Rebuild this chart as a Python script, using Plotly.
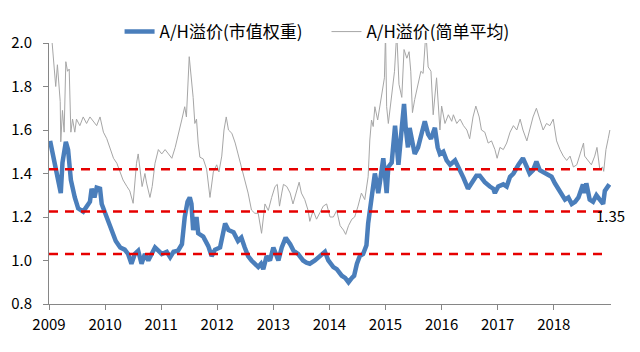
import plotly.graph_objects as go

# A/H premium, market-cap weighted (decimal year, value)
mw_time = [2009.02, 2009.08, 2009.14, 2009.21, 2009.24, 2009.30, 2009.34, 2009.39, 2009.46, 2009.52,
           2009.61, 2009.67, 2009.73, 2009.76, 2009.81, 2009.85, 2009.91, 2009.94, 2010.00, 2010.06,
           2010.12, 2010.19, 2010.27, 2010.35, 2010.41, 2010.47, 2010.53, 2010.59, 2010.65, 2010.71,
           2010.77, 2010.83, 2010.89, 2010.95, 2011.01, 2011.10, 2011.16, 2011.22, 2011.30, 2011.37,
           2011.39, 2011.42, 2011.47, 2011.51, 2011.54, 2011.57, 2011.63, 2011.66, 2011.75, 2011.84,
           2011.90, 2011.96, 2012.05, 2012.14, 2012.20, 2012.29, 2012.37, 2012.43, 2012.49, 2012.55,
           2012.61, 2012.67, 2012.73, 2012.78, 2012.82, 2012.88, 2012.94, 2013.00, 2013.09, 2013.15,
           2013.22, 2013.30, 2013.36, 2013.44, 2013.53, 2013.59, 2013.65, 2013.74, 2013.86, 2013.92,
           2013.98, 2014.07, 2014.13, 2014.22, 2014.28, 2014.34, 2014.40, 2014.44, 2014.49, 2014.54,
           2014.60, 2014.66, 2014.69, 2014.72, 2014.78, 2014.81, 2014.84, 2014.87, 2014.90, 2014.96,
           2015.02, 2015.05, 2015.11, 2015.17, 2015.20, 2015.23, 2015.29, 2015.33, 2015.36, 2015.40,
           2015.43, 2015.49, 2015.52, 2015.58, 2015.64, 2015.70, 2015.76, 2015.81, 2015.88, 2015.93,
           2015.97, 2016.03, 2016.09, 2016.15, 2016.24, 2016.30, 2016.39, 2016.47, 2016.54, 2016.62,
           2016.68, 2016.77, 2016.86, 2016.92, 2016.95, 2017.01, 2017.10, 2017.16, 2017.22, 2017.28,
           2017.37, 2017.45, 2017.52, 2017.57, 2017.63, 2017.69, 2017.75, 2017.84, 2017.90, 2017.96,
           2018.02, 2018.08, 2018.14, 2018.20, 2018.26, 2018.32, 2018.38, 2018.44, 2018.52, 2018.55,
           2018.58, 2018.64, 2018.70, 2018.76, 2018.82, 2018.88, 2018.91, 2018.96, 2018.99]
mw_value = [1.55, 1.48, 1.39, 1.31, 1.45, 1.545, 1.51, 1.37, 1.29, 1.24,
            1.225, 1.25, 1.27, 1.33, 1.29, 1.335, 1.33, 1.26, 1.22, 1.18,
            1.135, 1.09, 1.06, 1.05, 1.03, 0.985, 1.03, 1.045, 0.985, 1.03,
            1.0, 1.03, 1.06, 1.045, 1.03, 1.04, 1.015, 1.04, 1.045, 1.075,
            1.15, 1.2, 1.27, 1.29, 1.26, 1.14, 1.2, 1.125, 1.11, 1.066,
            1.02, 1.05, 1.06, 1.17, 1.14, 1.13, 1.09, 1.105, 1.06, 1.02,
            1.0, 0.985, 0.97, 0.985, 0.96, 1.02, 1.0, 1.06, 1.0, 1.06,
            1.105, 1.075, 1.045, 1.03, 1.0, 0.99, 0.985, 1.0, 1.03, 1.04,
            1.0, 0.97, 0.96, 0.93, 0.92, 0.9, 0.92, 0.93, 0.985, 1.02,
            1.03, 1.07, 1.17, 1.22, 1.324, 1.40, 1.36, 1.31, 1.36, 1.47,
            1.31, 1.43, 1.45, 1.62, 1.53, 1.44, 1.61, 1.72, 1.61, 1.52,
            1.61, 1.52, 1.49, 1.52, 1.58, 1.64, 1.58, 1.56, 1.61, 1.52,
            1.49, 1.50, 1.46, 1.44, 1.46, 1.43, 1.38, 1.33, 1.36, 1.39,
            1.39, 1.36, 1.34, 1.33, 1.31, 1.34, 1.35, 1.34, 1.385, 1.40,
            1.44, 1.47, 1.43, 1.40, 1.415, 1.455, 1.415, 1.40, 1.39, 1.385,
            1.355, 1.33, 1.31, 1.28, 1.29, 1.26, 1.27, 1.29, 1.35, 1.31,
            1.355, 1.28, 1.27, 1.30, 1.28, 1.26, 1.32, 1.34, 1.35]

# A/H premium, simple average (decimal year, value)
sa_time = [2009.00, 2009.05, 2009.12, 2009.15, 2009.20, 2009.21, 2009.24, 2009.27, 2009.30, 2009.33,
           2009.36, 2009.39, 2009.42, 2009.46, 2009.49, 2009.55, 2009.61, 2009.67, 2009.73, 2009.79,
           2009.85, 2009.91, 2009.97, 2010.03, 2010.09, 2010.15, 2010.21, 2010.27, 2010.32, 2010.39,
           2010.44, 2010.50, 2010.56, 2010.59, 2010.62, 2010.66, 2010.71, 2010.74, 2010.80, 2010.84,
           2010.89, 2010.95, 2011.01, 2011.07, 2011.13, 2011.19, 2011.25, 2011.30, 2011.37, 2011.42,
           2011.45, 2011.50, 2011.53, 2011.57, 2011.60, 2011.63, 2011.66, 2011.69, 2011.75, 2011.81,
           2011.87, 2011.93, 2011.99, 2012.03, 2012.08, 2012.12, 2012.16, 2012.20, 2012.26, 2012.32,
           2012.37, 2012.43, 2012.49, 2012.55, 2012.61, 2012.67, 2012.73, 2012.79, 2012.85, 2012.91,
           2012.97, 2013.03, 2013.07, 2013.11, 2013.15, 2013.18, 2013.24, 2013.30, 2013.35, 2013.42,
           2013.46, 2013.50, 2013.56, 2013.62, 2013.65, 2013.71, 2013.77, 2013.83, 2013.89, 2013.95,
           2014.01, 2014.07, 2014.13, 2014.19, 2014.25, 2014.29, 2014.34, 2014.40, 2014.45, 2014.51,
           2014.57, 2014.63, 2014.69, 2014.72, 2014.75, 2014.78, 2014.81, 2014.86, 2014.90, 2014.93,
           2014.98, 2015.00, 2015.02, 2015.05, 2015.11, 2015.16, 2015.20, 2015.24, 2015.29, 2015.33,
           2015.38, 2015.42, 2015.45, 2015.48, 2015.52, 2015.58, 2015.63, 2015.67, 2015.72, 2015.76,
           2015.81, 2015.85, 2015.91, 2015.97, 2016.00, 2016.06, 2016.12, 2016.18, 2016.21, 2016.27,
           2016.33, 2016.39, 2016.45, 2016.50, 2016.56, 2016.61, 2016.67, 2016.71, 2016.77, 2016.83,
           2016.89, 2016.95, 2016.99, 2017.04, 2017.10, 2017.16, 2017.22, 2017.28, 2017.34, 2017.40,
           2017.45, 2017.52, 2017.57, 2017.63, 2017.69, 2017.75, 2017.81, 2017.87, 2017.93, 2017.99,
           2018.05, 2018.11, 2018.17, 2018.23, 2018.29, 2018.35, 2018.41, 2018.47, 2018.53, 2018.55,
           2018.61, 2018.67, 2018.73, 2018.77, 2018.82, 2018.87, 2018.89, 2018.93, 2018.97, 2019.00]
sa_value = [2.08, 2.02, 1.80, 1.90, 1.73, 1.546, 1.69, 1.59, 1.914, 1.87,
            1.88, 1.59, 1.65, 1.59, 1.65, 1.62, 1.66, 1.63, 1.66, 1.64,
            1.62, 1.66, 1.59, 1.56, 1.51, 1.47, 1.447, 1.40, 1.37, 1.34,
            1.32, 1.263, 1.447, 1.49, 1.43, 1.34, 1.40, 1.356, 1.29, 1.34,
            1.447, 1.51, 1.49, 1.51, 1.49, 1.47, 1.52, 1.57, 1.65, 1.707,
            1.66, 1.937, 1.86, 1.75, 1.63, 1.65, 1.54, 1.475, 1.467, 1.42,
            1.29, 1.407, 1.44, 1.407, 1.48, 1.60, 1.66, 1.60, 1.585, 1.54,
            1.49, 1.43, 1.37, 1.31, 1.232, 1.217, 1.217, 1.125, 1.26, 1.23,
            1.29, 1.34, 1.35, 1.25, 1.31, 1.35, 1.34, 1.31, 1.26, 1.32,
            1.36, 1.31, 1.28, 1.23, 1.18, 1.23, 1.19, 1.22, 1.25, 1.26,
            1.20, 1.20, 1.23, 1.16, 1.14, 1.12, 1.16, 1.19, 1.20, 1.25,
            1.31, 1.28, 1.385, 1.554, 1.646, 1.616, 1.707, 1.646, 1.707, 1.75,
            1.84, 2.05, 1.707, 1.63, 1.75, 1.87, 2.05, 1.81, 1.75, 1.97,
            1.93, 1.96, 1.87, 1.68, 1.74, 1.81, 1.87, 1.86, 2.05, 1.89,
            1.87, 1.67, 1.84, 1.60, 1.71, 1.63, 1.67, 1.64, 1.67, 1.63,
            1.65, 1.62, 1.60, 1.56, 1.66, 1.71, 1.66, 1.60, 1.59, 1.54,
            1.55, 1.51, 1.47, 1.52, 1.51, 1.54, 1.59, 1.62, 1.60, 1.65,
            1.60, 1.55, 1.60, 1.66, 1.70, 1.65, 1.60, 1.63, 1.62, 1.65,
            1.55, 1.51, 1.48, 1.46, 1.48, 1.43, 1.44, 1.49, 1.54, 1.48,
            1.46, 1.44, 1.48, 1.52, 1.42, 1.43, 1.41, 1.51, 1.56, 1.60]

# reference bands (mean + std, mean, mean - std)
band_levels = [1.42, 1.225, 1.03]
band_start, band_end = 2009.0, 2018.9

year_ticks = [2009, 2010, 2011, 2012, 2013, 2014, 2015, 2016, 2017, 2018]
y_ticks = [0.8, 1.0, 1.2, 1.4, 1.6, 1.8, 2.0]

series_names = ["A/H溢价(市值权重)", "A/H溢价(简单平均)"]

FONT = "Noto Sans CJK SC, Liberation Sans, sans-serif"
PAD = "\u00a0" * 5

fig = go.Figure()
fig.add_trace(go.Scatter(
    x=mw_time, y=mw_value, mode="lines", name=series_names[0] + PAD,
    line=dict(color="#4a7ebb", width=4.5)))
fig.add_trace(go.Scatter(
    x=sa_time, y=sa_value, mode="lines", name=series_names[1],
    line=dict(color="#a6a6a6", width=1)))

for lvl in band_levels:
    fig.add_shape(type="line", xref="x", yref="y", x0=band_start, x1=band_end,
                  y0=lvl, y1=lvl, line=dict(color="#e60000", width=2.5, dash="9px,7px"),
                  layer="above")

fig.add_annotation(x=mw_time[-1], y=mw_value[-1], text=f"{mw_value[-1]:.2f}",
                   showarrow=False, yshift=-31, xshift=1,
                   font=dict(family=FONT, size=15, color="#000000"))

fig.update_layout(
    width=640, height=352,
    margin=dict(l=49, r=29, t=43, b=48),
    paper_bgcolor="white", plot_bgcolor="white",
    font=dict(family=FONT, size=15, color="#000000"),
    showlegend=True,
    legend=dict(orientation="h", x=0.477, xanchor="center", y=1.042, yanchor="middle",
                font=dict(family=FONT, size=17, color="#000000"),
                itemwidth=30, tracegroupgap=0, bgcolor="rgba(0,0,0,0)"),
    xaxis=dict(range=[2009, 2019.02], tickmode="array", tickvals=year_ticks,
               ticktext=[str(y) for y in year_ticks],
               showgrid=False, zeroline=False, showline=True, linecolor="#868686",
               linewidth=1, ticks="outside", ticklen=5, tickcolor="#868686",
               tickfont=dict(size=15), ticklabelstandoff=2),
    yaxis=dict(range=[0.8, 2.0], tickmode="array", tickvals=y_ticks,
               ticktext=[f"{v:.1f}" for v in y_ticks],
               showgrid=False, zeroline=False, showline=True, linecolor="#868686",
               linewidth=1, ticks="outside", ticklen=5, tickcolor="#868686",
               tickfont=dict(size=15), ticklabelstandoff=8),
)

fig.write_html("out.html")
